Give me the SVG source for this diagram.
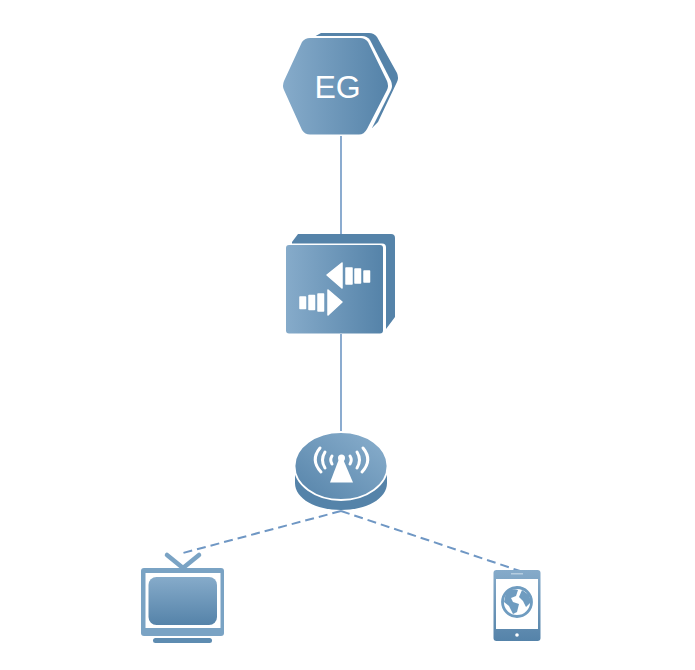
<svg xmlns="http://www.w3.org/2000/svg" width="695" height="670" viewBox="0 0 695 670">
<defs>
<linearGradient id="h" x1="0" y1="0" x2="1" y2="0"><stop offset="0" stop-color="#86abca"/><stop offset="1" stop-color="#5583a9"/></linearGradient>
<linearGradient id="v" x1="0" y1="0" x2="0" y2="1"><stop offset="0" stop-color="#86abca"/><stop offset="1" stop-color="#5583a9"/></linearGradient>
<linearGradient id="d" x1="1" y1="0" x2="0" y2="1"><stop offset="0" stop-color="#8bb0ce"/><stop offset="1" stop-color="#5583a9"/></linearGradient>
</defs>
<style>
.link{stroke:#6f97c4;stroke-width:1.6;fill:none}
.dash{stroke-width:2;stroke-dasharray:9 5}
.back{fill:#5583a9}
.wl{stroke:#fff;fill:none;stroke-linecap:round;stroke-width:3}
.w{fill:#fff}
.r{fill:#fff;stroke:#fff;stroke-width:1.5;stroke-linejoin:round}
</style>
<rect width="695" height="670" fill="#fff"/>
<g id="connectors">
<line class="link" x1="341" y1="134" x2="341" y2="235"/>
<line class="link" x1="341" y1="333" x2="341" y2="433"/>
<line class="link dash" x1="341" y1="511" x2="183" y2="553"/>
<line class="link dash" x1="341" y1="511" x2="520" y2="571"/>
</g>
<g id="eg">
<path class="back" d="M321 33H369Q374 33 377 37L397 73Q399 78 397 82L378 122L372 128L340 100L312 38Z"/>
<path d="M310 36H362Q367 36 370 40L391 81Q393 86 391 90L371 130Q368 136 362 136H310Z" fill="#fff"/>
<path d="M310 38H360Q365 38 368 42L387 81Q389 86 387 90L367 129Q364 134.500 359 134.500H310Q305 134.500 302 130L284 90Q282 86 284 81L302 42Q305 38 310 38Z" fill="url(#h)"/>
<text x="337.500" y="98" font-family="'Liberation Sans',Arial,sans-serif" font-size="32" fill="#fff" text-anchor="middle">EG</text>
</g>
<g id="switch">
<path class="back" d="M298 234H391Q395 234 395 238V317L386 329V250H292V242Z"/>
<rect x="286" y="243.500" width="100" height="90.500" rx="4" fill="#fff"/>
<rect x="286" y="245" width="97" height="88.500" rx="3" fill="url(#h)"/>
<path class="r" d="M327 275L342 263V288Z"/>
<rect class="r" x="346" y="268" width="6" height="16"/><rect class="r" x="355" y="269" width="5.500" height="14"/><rect class="r" x="364" y="271" width="5.500" height="11"/>
<path class="r" d="M342 302L328 290V315Z"/>
<rect class="r" x="318" y="294" width="5.500" height="17"/><rect class="r" x="309" y="295.500" width="5.500" height="14"/><rect class="r" x="300" y="297" width="5.500" height="11.500"/>
</g>
<g id="ap">
<path d="M295 466V483C295 499 316 510 341 510S387 499 387 483V466Z" fill="#5583a9"/>
<ellipse cx="341" cy="466" rx="46.500" ry="34" fill="url(#d)" stroke="#fff" stroke-width="1.800"/>
<path class="w" d="M330 482.500L339 459H343L353 482.500Z"/>
<circle class="w" cx="341.500" cy="458" r="3.500"/>
<g class="wl">
<path d="M332 456Q329.500 460 332 464"/><path d="M350 456Q352.500 460 350 464"/>
<path d="M325 452Q320 460 325 468"/><path d="M357 452Q362 460 357 468"/>
<path d="M320 448Q310 460 321 472"/><path d="M363 448Q373 460 362 472"/>
</g>
</g>
<g id="tv">
<path d="M167 555L183 568L199 555" fill="none" stroke="#7aa3c4" stroke-width="4.500" stroke-linecap="round" stroke-linejoin="round"/>
<rect x="141" y="568" width="83" height="68" rx="3" fill="#7aa3c4"/>
<rect x="145.500" y="573" width="75" height="55" fill="#fff"/>
<rect x="148.500" y="577" width="68.500" height="48" rx="8" fill="url(#v)"/>
<rect x="153" y="638" width="59" height="5" rx="2.500" fill="#5e8cb1"/>
</g>
<g id="tablet">
<rect x="493.500" y="570" width="47" height="71" rx="3" fill="url(#v)"/>
<rect x="496" y="579" width="42" height="50" fill="#fff"/>
<rect x="511" y="573" width="12" height="1.500" fill="#b5cde0"/>
<circle class="w" cx="517" cy="635" r="1.800"/>
<circle cx="517" cy="602" r="14.500" fill="#fff" stroke="#6f9cc0" stroke-width="2.800"/>
<path d="M506 592Q513 588 518 590L516 596L511 598L513 602L519 604L517 612L513 614L509 606L504 602Z" fill="#6f9cc0"/>
<path d="M522 590L529 595L531 602L526 607L523 601L519 597Z" fill="#6f9cc0"/>
</g>
</svg>
